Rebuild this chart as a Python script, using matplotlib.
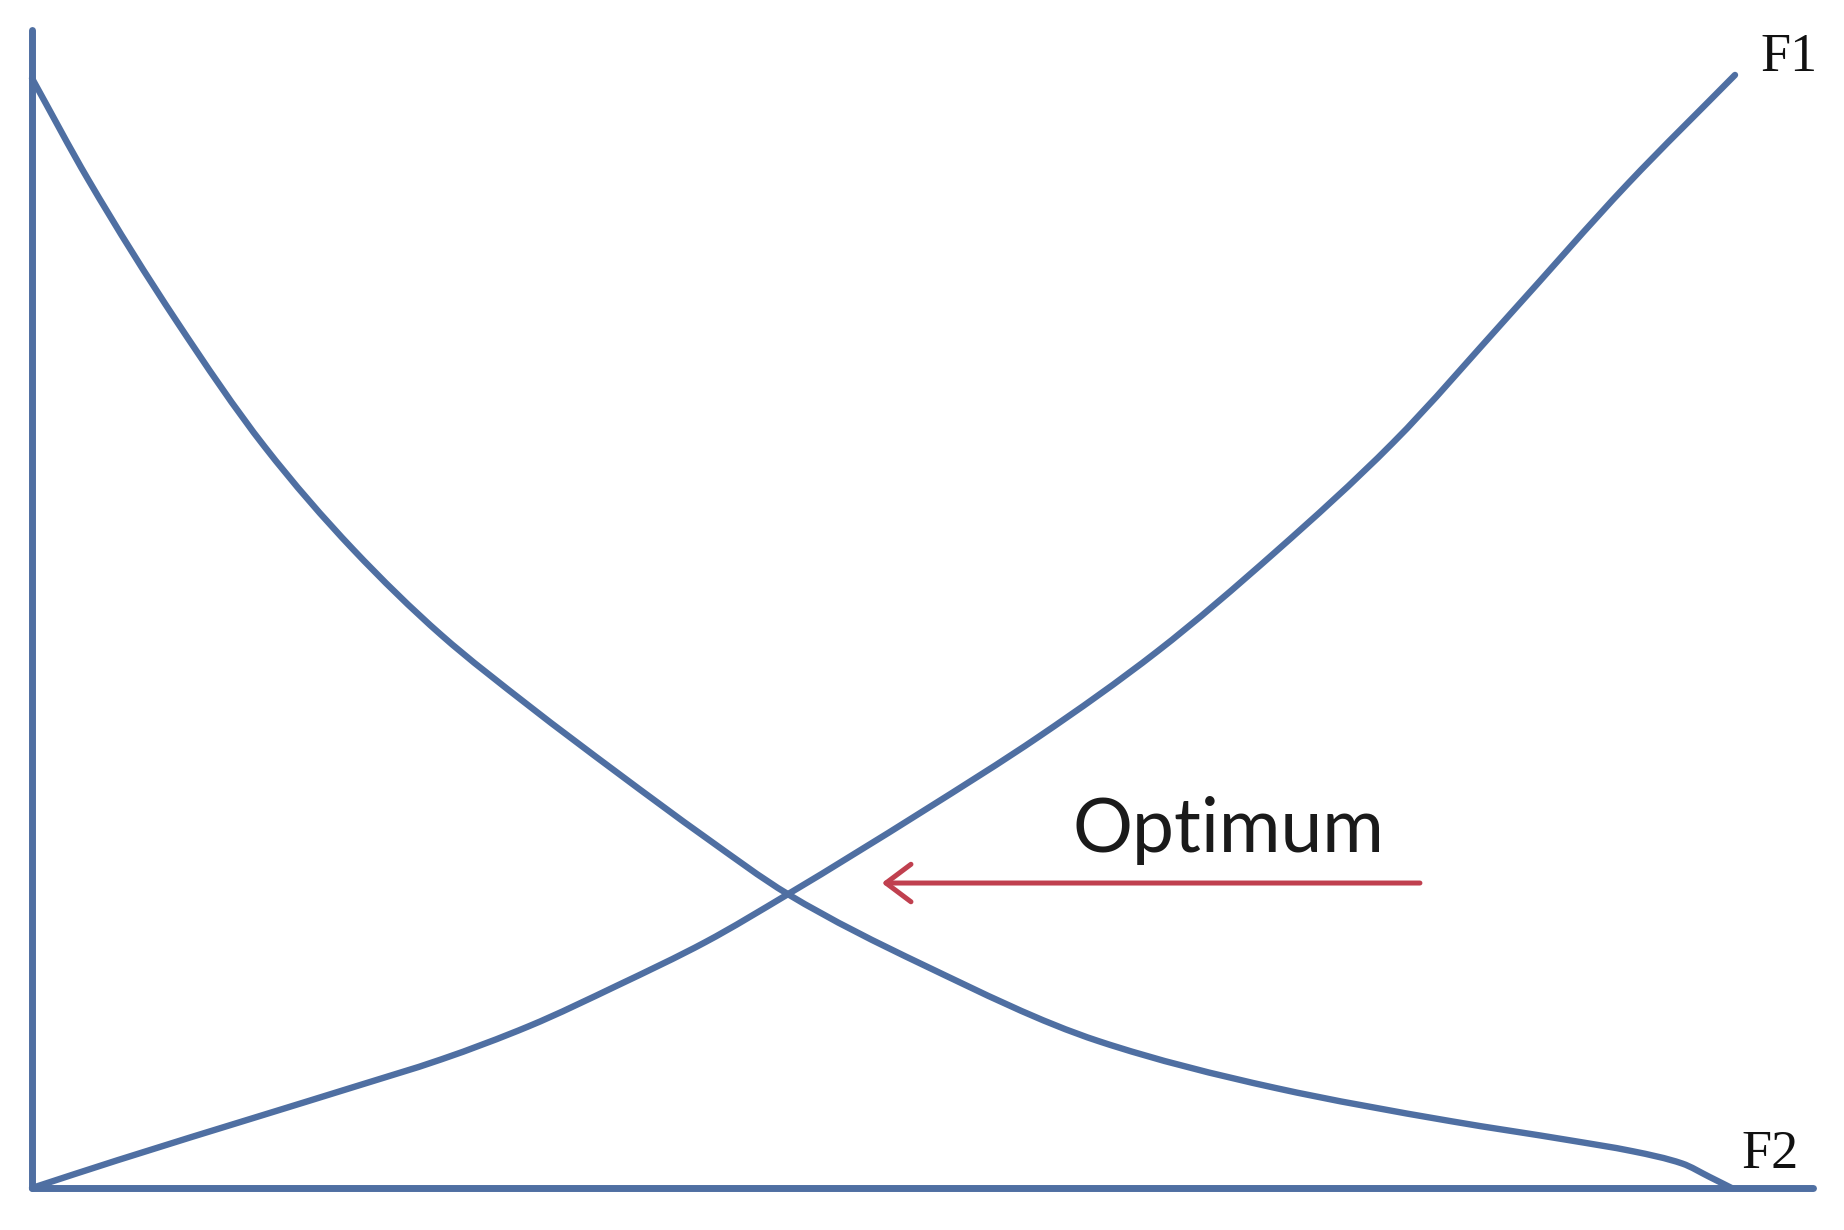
import matplotlib
matplotlib.use("Agg")
import matplotlib.pyplot as plt
from matplotlib.path import Path
from matplotlib.patches import PathPatch

# Curve data (x: 0..100 along the horizontal axis, y: 0..100 up the vertical axis)
f1_x = [0.0, 5.03, 13.66, 18.84, 24.02, 29.20, 34.38, 39.55, 44.39, 52.26,
        59.17, 66.07, 72.98, 79.88, 86.79, 93.69, 100.0]
f1_y = [0.0, 2.5, 6.6, 9.05, 11.55, 14.55, 18.2, 22.1, 26.4, 33.8,
        40.6, 48.2, 57.1, 66.9, 78.5, 90.2, 100.0]

f2_x = [0.0, 3.30, 8.48, 13.66, 18.84, 24.02, 29.20, 34.38, 39.55, 44.39,
        52.26, 62.62, 72.98, 83.33, 90.24, 94.0, 96.9, 98.5, 99.8]
f2_y = [99.7, 90.6, 77.9, 66.6, 57.4, 49.7, 43.3, 37.3, 31.5, 26.4,
        20.1, 13.2, 9.0, 6.0, 4.3, 3.3, 2.2, 1.0, 0.0]

label_f1 = "F1"
label_f2 = "F2"
label_opt = "Optimum"

arrow_tip = (49.9, 27.4)
arrow_tail = (81.5, 27.4)

BLUE = "#4f6fa2"
RED = "#c0404f"


def smooth_path(xs, ys):
    """Monotone cubic Hermite (Fritsch-Carlson) through the read points,
    drawn as cubic Bezier segments."""
    n = len(xs)
    h = [xs[i + 1] - xs[i] for i in range(n - 1)]
    d = [(ys[i + 1] - ys[i]) / h[i] for i in range(n - 1)]
    m = [0.0] * n
    m[0] = d[0]
    m[-1] = d[-1]
    for k in range(1, n - 1):
        if d[k - 1] * d[k] <= 0:
            m[k] = 0.0
        else:
            w1 = 2 * h[k] + h[k - 1]
            w2 = h[k] + 2 * h[k - 1]
            m[k] = (w1 + w2) / (w1 / d[k - 1] + w2 / d[k])
    verts = [(xs[0], ys[0])]
    codes = [Path.MOVETO]
    for i in range(n - 1):
        c1 = (xs[i] + h[i] / 3.0, ys[i] + m[i] * h[i] / 3.0)
        c2 = (xs[i + 1] - h[i] / 3.0, ys[i + 1] - m[i + 1] * h[i] / 3.0)
        verts += [c1, c2, (xs[i + 1], ys[i + 1])]
        codes += [Path.CURVE4, Path.CURVE4, Path.CURVE4]
    return Path(verts, codes)


fig = plt.figure(figsize=(18.44, 12.30), dpi=100)
fig.patch.set_facecolor("white")
ax = fig.add_axes([32 / 1844, 42 / 1230, (1813 - 32) / 1844, (1188 - 30) / 1230])
ax.set_xlim(0, 104.58)
ax.set_ylim(0, 104.04)
ax.set_facecolor("white")

for side in ("top", "right"):
    ax.spines[side].set_visible(False)
for side in ("left", "bottom"):
    ax.spines[side].set_color(BLUE)
    ax.spines[side].set_linewidth(5)
    ax.spines[side].set_capstyle("round")
ax.set_xticks([])
ax.set_yticks([])

for xs, ys in ((f1_x, f1_y), (f2_x, f2_y)):
    patch = PathPatch(smooth_path(xs, ys), facecolor="none", edgecolor=BLUE,
                      lw=4.6, capstyle="round", joinstyle="round", clip_on=False)
    ax.add_patch(patch)

ax.annotate("", xy=arrow_tip, xytext=arrow_tail,
            arrowprops=dict(arrowstyle="->,head_length=0.6,head_width=0.45",
                            lw=3.6, color=RED, mutation_scale=30,
                            shrinkA=0, shrinkB=0))

ax.text(61.1, 30.2, label_opt, fontsize=54, family=["Lato", "DejaVu Sans"],
        color="#1a1a1a", ha="left", va="baseline")
ax.text(101.5, 100.4, label_f1, fontsize=39, family=["Liberation Serif"],
        color="#111111", ha="left", va="baseline")
ax.text(100.4, 1.8, label_f2, fontsize=39, family=["Liberation Serif"],
        color="#111111", ha="left", va="baseline")

fig.savefig("out.png", dpi=100, facecolor="white")
